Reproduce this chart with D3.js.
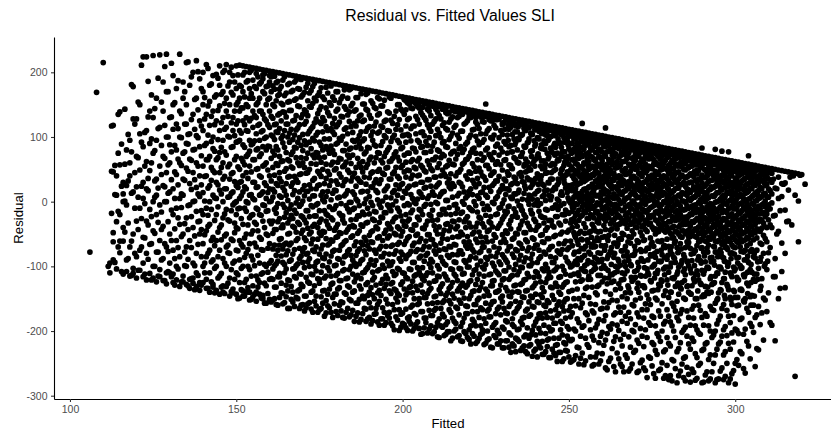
<!DOCTYPE html>
<html><head><meta charset="utf-8">
<script src="https://cdn.jsdelivr.net/npm/d3@7"></script>
<style>body{margin:0;background:#fff}svg{display:block;font-family:"Liberation Sans",Arial,Helvetica,sans-serif}</style>
</head><body><svg id="c" width="831" height="430"></svg>
<script>
const chartTitle = "Residual vs. Fitted Values SLI";
const xTitle = "Fitted";
const yTitle = "Residual";
const xTicks = [100, 150, 200, 250, 300];
const xTickLabels = ["100", "150", "200", "250", "300"];
const yTicks = [-300, -200, -100, 0, 100, 200];
const yTickLabels = ["-300", "-200", "-100", "0", "100", "200"];

// points read column by column: fitted value of each column
const fittedValues = [105,106,107,108,109,110,111,112,113,114,115,116,117,118,119,120,121,122,123,124,125,126,127,128,129,130,131,132,133,134,135,136,137,138,139,140,141,142,143,144,145,146,147,148,149,150,151,152,153,154,155,156,157,158,159,160,161,162,163,164,165,166,167,168,169,170,171,172,173,174,175,176,177,178,179,180,181,182,183,184,185,186,187,188,189,190,191,192,193,194,195,196,197,198,199,200,201,202,203,204,205,206,207,208,209,210,211,212,213,214,215,216,217,218,219,220,221,222,223,224,225,226,227,228,229,230,231,232,233,234,235,236,237,238,239,240,241,242,243,244,245,246,247,248,249,250,251,252,253,254,255,256,257,258,259,260,261,262,263,264,265,266,267,268,269,270,271,272,273,274,275,276,277,278,279,280,281,282,283,284,285,286,287,288,289,290,291,292,293,294,295,296,297,298,299,300,301,302,303,304,305,306,307,308,309,310,311,312,313,314,315,316,317,318,319,320,321];

// residuals in each of those columns
const residualValues = [
[],[-78],[],[169],[],[215],[],
[-110,-95],
[118,46,-48,-62,-90],
[-31,40,-104,10],
[139,57,-79,-61,-20],
[12,0,-61,-112,30,-40],
[80,-90,25,-108,-5],
[40,95,-115,-70,60],
[178,128,-103,-50,15,-111],
[23,128,-118,70,-30,-85],
[49,105,-106,-10,-75,150],
[224,85,-116,30,-55,-95,5],
[224,62,-121,-30,110,-80,20],
[140,-111,48,-12,-66,90],
[226,75,-118,-100,0,-45,130],
[35,-124,160,-78,10,95,-20],
[227,55,-116,-60,115,-5,-105],
[185,70,-122,-88,25,-38,140],
[228,100,-127,0,-70,45,-110,170],
[60,-110,130,-50,15,-95,88],
[195,-125,20,-20,150,-75,112,-112],
[80,-121,42,-10,-60,175,-100,120],
[228,140,-131,60,-35,5,-85,100],
[160,-124,10,-115,75,35,-50,185],
[215,120,-128,-25,52,-70,90,-100,150],
[180,-134,28,-120,66,-5,105,-60],
[135,-126,80,-40,0,200,-95,45,-118],
[218,-131,102,-15,60,-80,160,22,-110],
[190,-137,40,125,-50,-125,8,85,-30],
[150,-125,55,-100,170,14,-65,110,-20,200],
[212,-134,90,-10,135,-120,40,-45,65,-85],
[180,-140,25,118,-75,0,155,-110,70,-35],
[100,-132,48,195,-55,-128,10,140,-90,82],
[197,-137,125,30,-20,-100,65,165,-60,5],
[210,-143,76,-40,148,-115,18,-75,110,45,180],
[170,-140,95,0,-88,130,-25,60,-130,35,200],
[212,-131,20,115,-50,160,-100,72,-12,140,-70],
[185,-146,58,-30,100,-118,8,150,-80,200,35],
[195,-141,130,-5,-60,85,-135,45,165,-95,15,110],
[210,-143,70,-20,120,-110,25,175,-75,92,-40,150,0],
[211,-149,180,95,-10,140,-125,50,-60,110,5,-90,160,30],
[210,196,-146,125,62,-35,-100,15,170,-70,88,-138,40,145],
[209,-140,150,70,-15,110,-80,185,20,-120,45,-50,130,0],
[208,200,-152,95,-25,160,-105,55,125,-65,10,-140,175,78],
[207,-147,140,30,-45,188,-90,65,115,-130,5,160,-20,90],
[206,198,-154,105,-10,150,-115,50,-70,175,22,-140,80,130,-35],
[205,-143,120,40,-55,182,-95,10,160,-125,70,95,-20,140],
[204,196,-150,85,-30,135,-145,55,-75,170,15,-110,110,190,-5],
[203,-157,150,60,-15,100,-100,25,-130,178,-50,125,5,80],
[202,195,-151,115,40,-65,160,-120,0,85,-30,140,-95,185,20],
[201,-152,-120,-104,-73,-49,-30,7,19,53,78,101,129,150,179],
[200,-159,-132,-96,-83,-43,-18,-9,28,59,85,108,120,156,184],
[199,-148,-116,-111,-67,-58,-26,9,36,45,70,113,136,166,174],
[198,-158,-142,-94,-73,-40,-36,-4,22,63,91,102,139,150,188],
[197,-147,-129,-104,-82,-64,-17,10,28,51,76,120,131,168],
[196,-165,-122,-92,-67,-49,-27,-11,39,63,92,106,141,155,183],
[195,-155,-140,-104,-81,-38,-26,11,29,52,77,96,125,172],
[194,-148,-118,-99,-60,-47,-18,-2,34,68,83,111,133,159,188],
[193,-165,-136,-111,-88,-72,-35,-7,15,42,56,99,119,147,174],
[192,-159,-131,-94,-77,-44,-24,1,19,60,79,104,135,165],
[191,-164,-146,-117,-81,-60,-33,-14,16,44,67,88,124,139,177],
[190,-156,-126,-100,-88,-50,-23,4,26,50,92,109,147,168],
[189,-171,-138,-113,-75,-58,-38,-8,9,33,72,98,116,152,178],
[188,-161,-146,-107,-94,-70,-22,-5,20,58,76,103,128,156],
[187,-167,-126,-120,-81,-48,-32,-14,26,43,68,92,123,142,169],
[186,-157,-138,-99,-87,-67,-46,3,15,50,80,108,130,162],
[185,-172,-153,-115,-81,-57,-30,-19,8,36,58,85,116,145,177],
[184,-164,-135,-107,-93,-65,-41,-8,25,42,75,97,133,153],
[183,-179,-148,-126,-77,-61,-28,-12,13,61,79,108,121,162],
[182,-170,-143,-114,-98,-55,-40,-6,17,32,51,89,116,140,170],
[181,-160,-133,-122,-89,-75,-48,-18,7,43,67,98,123,153],
[180,-179,-156,-107,-95,-66,-28,-22,25,54,79,101,131,163],
[179,-171,-143,-119,-83,-60,-47,-6,12,34,61,89,114,143],
[178,-178,-151,-132,-105,-74,-39,-16,-1,45,68,81,124,139,173],
[177,-168,-140,-112,-90,-53,-37,-12,15,38,72,95,107,152],
[176,-177,-157,-118,-100,-83,-62,-27,4,24,53,84,117,142,161],
[175,-186,-151,-130,-96,-73,-45,-22,-6,32,59,89,102,132],
[174,-173,-146,-110,-89,-67,-38,-16,16,46,62,94,124,151],
[173,-185,-166,-128,-105,-82,-60,-33,4,27,53,77,109,143,166],
[172,-179,-156,-140,-97,-73,-52,-19,8,37,65,83,116,134],
[171,-184,-144,-121,-109,-63,-45,-27,-6,22,46,95,108,152],
[170,-173,-165,-129,-91,-80,-39,-16,17,34,68,86,123,144],
[169,-191,-154,-137,-105,-73,-54,-32,-4,28,50,75,108,136,159],
[168,-181,-164,-120,-98,-85,-60,-25,1,44,60,93,115,148],
[167,-187,-151,-128,-114,-69,-44,-17,7,20,52,76,99,126],
[166,-180,-171,-138,-99,-81,-53,-38,-9,35,62,84,109,137,162],
[165,-192,-159,-125,-108,-93,-67,-31,-5,14,43,67,99,121],
[164,-178,-149,-137,-112,-76,-51,-24,1,26,53,77,112,140],
[163,-199,-167,-145,-105,-88,-63,-42,-15,20,36,63,91,127,150],
[162,-188,-172,-124,-110,-82,-46,-30,6,28,56,84,102,140],
[161,156,-195,-166,-144,-117,-88,-61,-38,-20,13,38,61,92,117,142],
[160,151,-185,-178,-133,-104,-81,-54,-27,-5,24,48,75,102,129],
[159,155,-200,-160,-141,-123,-94,-68,-44,-13,5,41,65,83,117,144],
[158,151,-190,-175,-131,-113,-77,-52,-36,-3,27,51,77,105,132],
[157,152,-196,-157,-150,-109,-87,-62,-28,-12,15,41,67,92,120,145],
[156,146,-204,-170,-140,-119,-102,-74,-41,-20,7,30,53,85,108,134],
[155,151,-187,-180,-148,-114,-83,-61,-36,-4,22,46,76,93,126],
[154,147,-197,-168,-137,-126,-96,-70,-51,-20,9,34,57,99,114,140],
[153,148,-204,-176,-157,-110,-93,-59,-29,-13,15,48,65,86,120],
[152,143,-194,-165,-146,-122,-81,-68,-44,-1,23,38,69,102,128],
[151,147,-210,-181,-136,-116,-104,-75,-39,-20,8,29,59,78,106,133],
[150,143,-194,-174,-156,-127,-92,-57,-50,-12,15,49,73,91,118],
[149,144,-205,-190,-145,-116,-98,-74,-35,-19,2,39,54,85,113,138],
[148,138,-201,-167,-153,-134,-86,-69,-45,-9,23,35,64,96,123],
[147,143,-211,-180,-143,-125,-105,-82,-55,-30,7,28,58,77,106,131],
[146,139,-197,-188,-163,-115,-94,-67,-42,-18,-4,40,66,90,118],
[145,140,-207,-175,-152,-134,-103,-76,-54,-28,13,30,46,82,98,132],
[144,135,-216,-187,-141,-126,-112,-81,-51,-16,0,23,58,76,109],
[143,139,-204,-173,-161,-132,-94,-68,-40,-27,6,40,65,89,122],
[142,135,-213,-198,-150,-124,-101,-90,-62,-33,-9,16,46,70,99,130],
[141,136,-204,-182,-170,-139,-113,-74,-50,-14,11,33,59,81,111],
[140,130,-219,-192,-159,-128,-105,-87,-58,-39,-6,23,47,75,101,123],
[139,135,-211,-179,-149,-137,-112,-79,-47,-24,5,28,52,88,113],
[138,131,-203,-198,-167,-125,-101,-71,-63,-34,-3,15,40,64,92,124],
[137,151,132,-219,-188,-157,-135,-97,-86,-55,-21,10,33,56,80,105],
[136,127,-212,-178,-166,-145,-113,-76,-44,-31,-12,22,51,73,113],
[135,131,-226,-194,-155,-130,-123,-95,-61,-39,-1,25,44,65,97,125],
[134,127,-210,-187,-173,-140,-107,-85,-55,-20,5,32,58,86,114],
[133,128,-220,-204,-163,-137,-113,-93,-72,-37,-10,15,39,72,99],
[132,122,-226,-194,-155,-146,-121,-82,-51,-27,-3,25,49,77,104,119],
[131,127,-215,-184,-172,-133,-107,-90,-63,-45,-19,11,32,65,89],
[130,123,-225,-203,-162,-146,-120,-101,-70,-35,-7,18,42,57,85,112],
[129,124,-220,-190,-181,-140,-114,-81,-58,-23,5,28,51,77,104],
[128,119,-232,-211,-170,-154,-129,-97,-74,-49,-17,12,36,66,92,117],
[127,123,-216,-197,-162,-140,-108,-90,-64,-42,-6,18,43,60,96],
[126,119,-226,-190,-180,-147,-126,-102,-72,-30,-14,4,31,76,104],
[125,120,-232,-206,-169,-138,-120,-87,-59,-48,-24,20,46,66,85,110],
[124,114,-223,-211,-177,-155,-116,-99,-71,-38,-4,10,34,53,97],
[123,119,-239,-199,-162,-148,-133,-95,-81,-56,-19,4,26,59,79,104],
[122,115,-228,-206,-186,-143,-126,-108,-67,-44,-31,-3,36,66,89],
[121,116,-221,-196,-174,-156,-116,-88,-75,-37,-15,18,40,68,97,109],
[120,111,-236,-216,-180,-148,-133,-104,-62,-51,-24,8,27,51,82],
[119,115,-232,-204,-172,-162,-125,-97,-81,-44,-12,2,44,58,90,103],
[118,111,-241,-212,-194,-156,-115,-109,-74,-57,-29,10,29,69,97],
[117,112,-228,-198,-180,-145,-133,-94,-69,-37,-10,17,35,59,76],
[116,106,-238,-222,-188,-167,-126,-105,-87,-52,-23,-5,20,50,84,102],
[115,111,-233,-211,-173,-155,-140,-117,-79,-65,-33,1,30,64,90],
[114,107,-247,-206,-188,-162,-132,-100,-74,-47,-20,10,37,51,77,105],
[113,108,-230,-220,-180,-151,-125,-112,-86,-61,-30,-13,21,41,68,95],
[112,102,-240,-213,-197,-168,-139,-95,-71,-44,-18,1,25,58,82],
[111,107,102,90,76,65,51,40,26,17,3,-8,-15,-246,-213,-172,-137,-99,-68,-40],
[110,105,97,84,78,59,45,33,20,10,-3,-21,-238,-200,-161,-124,-92,-55,-32],
[109,106,101,91,80,67,52,41,28,12,5,-13,-251,-226,-187,-150,-114,-77,-49,-29],
[108,121,102,93,84,70,55,42,33,16,3,-8,-21,-234,-194,-157,-121,-86,-59],
[107,103,96,87,73,59,45,33,20,8,-4,-17,-246,-211,-172,-134,-108,-69,-40],
[106,101,97,89,76,62,50,37,23,10,-1,-12,-26,-225,-184,-148,-115,-78,-48],
[105,102,93,82,69,55,42,27,14,2,-10,-22,-254,-208,-169,-132,-94,-66,-35],
[104,98,90,85,76,63,50,32,22,9,-6,-17,-240,-195,-159,-141,-103,-69,-45],
[103,99,95,81,70,56,44,36,23,10,-3,-20,-27,-251,-218,-182,-129,-93,-60,-33],
[102,97,91,77,63,50,38,26,14,1,-12,-24,-235,-202,-165,-124,-89,-55],
[101,114,98,91,85,70,56,43,31,17,3,-8,-19,-30,-257,-214,-176,-139,-103,-68,-43],
[100,94,87,78,65,51,39,27,14,0,-12,-25,-247,-193,-156,-118,-82,-52],
[99,95,90,81,72,57,44,34,20,7,-5,-18,-29,-227,-189,-152,-113,-79,-42],
[98,93,86,74,60,52,38,23,9,-4,-15,-25,-263,-209,-172,-136,-100,-64,-36],
[97,94,89,82,68,54,40,29,16,3,-11,-22,-35,-243,-199,-163,-127,-92,-58],
[96,90,85,76,62,48,34,25,11,-1,-14,-30,-255,-223,-185,-147,-110,-76,-49],
[95,91,81,72,63,51,42,29,17,4,-8,-21,-34,-237,-177,-141,-100,-69],
[94,89,85,75,58,44,31,20,7,-5,-17,-28,-262,-209,-171,-134,-91,-54],
[93,90,81,67,53,39,26,14,1,-11,-22,-34,-251,-199,-159,-123,-83,-45],
[92,86,82,75,64,50,36,23,10,-4,-15,-28,-39,-230,-190,-152,-117,-76],
[91,87,78,70,56,44,31,19,7,-7,-21,-33,-262,-219,-178,-140,-101,-62],
[90,85,82,66,53,39,26,14,2,-11,-23,-39,-245,-208,-167,-130,-91,-53],
[89,86,78,71,58,45,31,19,8,-4,-16,-29,-43,-261,-198,-158,-115,-76],
[88,82,74,66,55,39,26,15,2,-12,-22,-35,-240,-187,-151,-113,-72],
[87,83,78,67,51,41,28,19,4,-8,-21,-39,-254,-218,-177,-138,-101,-63],
[86,81,74,61,47,34,21,9,-4,-16,-28,-42,-273,-230,-192,-149,-111,-86,-50],
[85,82,78,69,56,42,30,19,6,-6,-18,-34,-46,-261,-209,-169,-128,-92],
[84,78,71,61,50,36,23,10,-4,-15,-27,-38,-249,-200,-158,-123,-82,-60],
[83,79,73,64,51,38,26,12,-1,-14,-23,-34,-47,-269,-229,-185,-138,-101,-71],
[82,77,70,56,44,32,19,7,-5,-18,-31,-43,-275,-219,-177,-148,-109,-69],
[81,78,73,64,51,39,27,14,1,-11,-23,-40,-51,-277,-244,-192,-157,-118,-81,-56],
[80,74,66,58,45,31,20,7,-5,-16,-29,-46,-258,-210,-169,-131,-94,-61],
[79,75,68,58,46,35,21,10,-4,-15,-28,-39,-50,-269,-227,-184,-143,-101,-77],
[78,73,69,54,41,27,14,1,-12,-24,-36,-45,-251,-202,-167,-125,-91,-55],
[77,74,65,59,49,37,24,12,-1,-12,-24,-35,-50,-277,-240,-194,-151,-113,-71],
[76,70,66,53,40,29,15,4,-10,-22,-34,-44,-55,-267,-220,-179,-140,-99,-63],
[75,71,62,55,43,30,18,5,-7,-20,-31,-49,-259,-211,-166,-130,-91],
[74,69,66,57,45,33,19,8,-5,-17,-29,-42,-54,-276,-235,-192,-150,-112,-76],
[73,70,62,48,35,23,11,-1,-14,-26,-39,-49,-253,-203,-160,-121,-85,-62],
[72,83,66,60,53,41,29,16,4,-9,-21,-33,-46,-58,-280,-230,-179,-147,-106,-71],
[71,67,62,49,37,25,12,0,-13,-25,-37,-48,-61,-268,-220,-173,-131,-93],
[70,65,57,52,43,31,18,6,-6,-18,-31,-43,-55,-277,-244,-192,-142,-103,-67],
[69,66,59,45,33,21,9,-4,-16,-28,-40,-52,-263,-210,-167,-128,-86],
[68,81,62,57,47,35,24,11,-1,-14,-26,-38,-49,-61,-280,-237,-200,-157,-115,-78],
[67,63,58,51,39,26,14,1,-11,-23,-35,-48,-60,-274,-220,-183,-141,-101],
[66,78,61,53,41,31,19,7,-6,-17,-29,-42,-54,-66,-257,-208,-165,-125,-85],
[65,62,54,45,33,22,9,-3,-15,-27,-39,-51,-63,-270,-232,-193,-150,-109,-71],
[64,77,58,55,46,35,24,13,1,-11,-23,-35,-47,-59,-280,-219,-177,-136,-95],
[63,59,51,40,29,17,5,-7,-19,-31,-43,-55,-67,-266,-203,-159,-116,-79],
[62,57,54,47,36,25,13,1,-11,-23,-35,-47,-59,-71,-282,-250,-197,-148,-104],
[61,56,49,40,30,19,8,-4,-16,-29,-41,-52,-64,-253,-204,-160,-121,-86],
[60,56,51,43,32,20,10,-2,-14,-26,-37,-50,-62,-235,-180,-137,-102],
[59,53,45,36,25,13,2,-10,-22,-34,-47,-59,-265,-197,-150,-112,-75],
[58,71,54,48,39,28,16,4,-8,-20,-32,-45,-57,-223,-171,-130,-94],
[57,52,44,32,20,8,-3,-14,-27,-39,-51,-193,-145,-109,-74],
[56,52,47,38,25,13,1,-11,-23,-35,-48,-255,-179,-123,-87],
[55,49,40,29,17,5,-7,-19,-31,-43,-229,-162,-103],
[54,49,42,33,20,8,-5,-18,-29,-41,-172,-119,-66],
[53,49,39,25,13,1,-8,-23,-152,-96,-57],
[52,46,35,20,7,-5,-28,-141,-79],
[51,44,30,-2,-191,-40,12],
[50,21,-21,-215,-116,-88],
[49,38,-46,5,-150],
[48,8,-64,-108,28],
[47,29,-13,-133,-80],
[46,18,-30],
[45,-36],
[44,-270,10],
[43,1,-62],
[42],
[27]
];

// second set of columns, read between the first ones
const fittedValues2 = [105.5,106.5,107.5,108.5,109.5,110.5,111.5,112.5,113.5,114.5,115.5,116.5,117.5,118.5,119.5,120.5,121.5,122.5,123.5,124.5,125.5,126.5,127.5,128.5,129.5,130.5,131.5,132.5,133.5,134.5,135.5,136.5,137.5,138.5,139.5,140.5,141.5,142.5,143.5,144.5,145.5,146.5,147.5,148.5,149.5,150.5,151.5,152.5,153.5,154.5,155.5,156.5,157.5,158.5,159.5,160.5,161.5,162.5,163.5,164.5,165.5,166.5,167.5,168.5,169.5,170.5,171.5,172.5,173.5,174.5,175.5,176.5,177.5,178.5,179.5,180.5,181.5,182.5,183.5,184.5,185.5,186.5,187.5,188.5,189.5,190.5,191.5,192.5,193.5,194.5,195.5,196.5,197.5,198.5,199.5,200.5,201.5,202.5,203.5,204.5,205.5,206.5,207.5,208.5,209.5,210.5,211.5,212.5,213.5,214.5,215.5,216.5,217.5,218.5,219.5,220.5,221.5,222.5,223.5,224.5,225.5,226.5,227.5,228.5,229.5,230.5,231.5,232.5,233.5,234.5,235.5,236.5,237.5,238.5,239.5,240.5,241.5,242.5,243.5,244.5,245.5,246.5,247.5,248.5,249.5,250.5,251.5,252.5,253.5,254.5,255.5,256.5,257.5,258.5,259.5,260.5,261.5,262.5,263.5,264.5,265.5,266.5,267.5,268.5,269.5,270.5,271.5,272.5,273.5,274.5,275.5,276.5,277.5,278.5,279.5,280.5,281.5,282.5,283.5,284.5,285.5,286.5,287.5,288.5,289.5,290.5,291.5,292.5,293.5,294.5,295.5,296.5,297.5,298.5,299.5,300.5,301.5,302.5,303.5,304.5,305.5,306.5,307.5,308.5,309.5,310.5,311.5,312.5,313.5,314.5,315.5,316.5,317.5,318.5,319.5,320.5];

const residualValues2 = [
[],[],[],[],[],[],[-100],
[-18,47,117],
[-94,11,56],
[-70,-15,75,135],
[-108,24,89],
[-47,1,58,143],
[-88,-33,32,104],
[-114,-61,13,77,181],
[-80,-10,45,120],
[-106,-43,7,68,154],
[-70,-26,24,92,211],
[-112,-56,-3,55,107],
[-89,-36,17,36,131,186],
[-121,-65,-23,60,97,165],
[-100,-49,7,32,79,144],
[-115,-78,-32,21,113,191],
[-90,-43,-16,42,87,154],
[-122,-65,0,23,67,118,209],
[-108,-77,-31,13,57,100,170],
[-116,-60,-13,34,77,131,214],
[-129,-88,-42,5,46,87,153],
[-104,-71,-25,26,66,113,187],
[-124,-54,-9,12,56,99,136],
[-99,-78,-34,33,77,120,170],
[-130,-89,-43,-6,47,89,104,216],
[-119,-71,-23,19,64,127,193],
[-136,-99,-53,1,34,81,112,158],
[-114,-66,-31,12,55,99,142,201],
[-129,-85,-43,-14,26,71,117,175],
[-110,-95,-51,1,39,87,128,161],
[-134,-80,-38,-21,21,65,103,148,206],
[-124,-93,-60,-12,33,53,93,132,182],
[-141,-103,-68,-29,6,45,78,119,162],
[-118,-85,-47,-8,26,68,96,141,191],
[-132,-111,-59,-36,12,53,84,122,166],
[-142,-95,-53,-19,20,39,77,112,152,203],
[-126,-79,-67,-28,7,54,101,132,179],
[-139,-105,-58,-14,13,43,84,122,169,208],
[-120,-92,-48,-33,-2,31,65,102,140,185],
[-150,-113,-76,-42,-11,22,54,93,125,154,196],
[-136,-103,-66,-26,9,31,67,106,145,178],
[-146,-125,-86,-56,-10,23,57,84,119,162,200],
[-133,-100,-74,-36,-2,36,73,109,147,187],
[-151,-115,-84,-50,-21,11,46,88,129,167,203],
[-143,-99,-64,-32,3,30,65,94,133,178],
[-132,-121,-83,-45,-12,23,51,82,118,153,193],
[-149,-112,-74,-58,-21,12,38,74,108,140,185],
[-157,-126,-97,-40,-6,29,57,98,128,167,198],
[-142,-109,-72,-52,-14,14,49,86,119,158,179],
[-155,-119,-91,-34,1,32,67,103,132,170,193],
[-150,-132,-99,-67,-43,-12,15,41,72,96,119,147,174,194],
[-160,-116,-92,-75,-31,-3,25,56,80,107,134,164,186],
[-141,-126,-84,-57,-40,7,31,62,98,125,152,178],
[-156,-110,-97,-66,-24,-9,17,47,84,110,138,164,193],
[-165,-138,-121,-76,-50,-33,2,38,65,100,120,154,181],
[-151,-131,-90,-64,-21,-5,24,54,73,112,141,170],
[-162,-116,-103,-74,-40,-13,17,39,84,103,126,157,185],
[-150,-138,-96,-57,-32,5,30,60,92,114,148,175],
[-160,-128,-112,-84,-49,-22,-4,43,68,87,130,162,189],
[-169,-146,-102,-71,-56,-28,9,25,53,94,120,142,169],
[-158,-124,-93,-80,-41,-14,16,45,75,105,133,156,183],
[-166,-140,-112,-65,-47,-6,20,59,82,113,146,172],
[-154,-130,-100,-77,-35,-22,9,36,68,94,122,160,183],
[-171,-119,-92,-58,-40,-3,25,47,75,107,136,164],
[-165,-147,-109,-73,-52,-27,10,39,61,87,121,147,176],
[-177,-137,-118,-88,-47,-14,0,28,69,97,125,158],
[-161,-143,-102,-67,-36,-21,16,47,81,110,138,168],
[-171,-128,-115,-84,-59,-25,3,32,57,86,113,149,179],
[-158,-143,-99,-75,-44,-11,18,49,73,104,129,157],
[-176,-135,-111,-88,-54,-35,6,27,61,91,119,143,170],
[-169,-155,-122,-68,-49,-21,-3,38,66,95,132,159],
[-180,-141,-105,-85,-62,-33,9,31,56,79,112,147,173],
[-165,-130,-118,-77,-43,-11,17,49,72,105,134,160],
[-175,-153,-100,-83,-55,-28,-1,32,59,83,116,148,175],
[-185,-138,-124,-95,-68,-39,-10,11,44,93,121,140],
[-172,-157,-114,-77,-49,-22,1,36,67,96,125,161],
[-182,-135,-119,-91,-63,-36,15,30,53,82,108,134,167],
[-165,-150,-109,-76,-55,-20,-3,38,74,97,126,151],
[-181,-145,-125,-102,-68,-32,-10,16,58,84,114,141,168],
[-189,-164,-133,-90,-62,-47,-1,23,44,69,102,129,156],
[-174,-150,-117,-98,-75,-29,-15,29,60,88,117,146],
[-186,-159,-141,-107,-56,-42,3,14,47,76,106,134,161],
[-181,-145,-126,-85,-69,-24,-9,34,64,87,117,148],
[-191,-171,-134,-103,-80,-49,-17,17,42,70,102,124,157],
[-176,-158,-119,-92,-56,-34,-5,24,53,80,110,139],
[-188,-142,-127,-98,-69,-42,-14,6,35,63,93,126,160],
[-198,-167,-135,-114,-81,-49,-26,17,46,73,103,132],
[-183,-155,-142,-103,-66,-39,-10,10,39,69,95,119,150],
[-194,-174,-128,-92,-78,-53,-22,26,53,82,111,143],
[-190,-152,-135,-111,-66,-37,-6,16,46,72,103,135,158],
[-199,-180,-141,-119,-83,-56,-30,-3,21,49,75,104,127,153],
[-189,-163,-131,-105,-77,-43,-17,11,36,62,94,113,145],
[-196,-173,-150,-115,-94,-64,-36,-1,26,53,82,117,154],
[-186,-159,-137,-102,-74,-50,-24,4,40,63,95,127,147],
[-205,-170,-129,-114,-84,-57,-14,12,30,56,84,107,138],
[-195,-180,-148,-122,-92,-69,-42,-7,21,48,76,102,130,153],
[-203,-158,-142,-110,-80,-51,-30,5,34,63,87,119,143],
[-192,-176,-134,-102,-89,-58,-22,-4,24,51,78,109,133],
[-201,-168,-147,-123,-76,-66,-37,10,38,65,92,124,147],
[-209,-187,-156,-115,-99,-50,-28,-3,26,53,80,112,138],
[-192,-165,-142,-131,-86,-64,-20,12,40,68,99,128],
[-207,-178,-153,-112,-96,-73,-44,-12,16,43,71,93,122,146],
[-201,-186,-141,-121,-83,-58,-34,2,29,56,84,111,136],
[-215,-171,-158,-131,-104,-70,-39,-20,20,43,74,101,128],
[-200,-185,-149,-112,-93,-66,-31,-5,24,57,78,115,140],
[-209,-165,-138,-122,-82,-54,-38,-11,9,45,73,103,130],
[-215,-193,-157,-130,-104,-76,-47,-18,28,50,85,109,136],
[-201,-180,-149,-111,-91,-62,-31,-4,15,60,81,120,141],
[-210,-173,-162,-129,-101,-72,-54,-23,9,35,66,92,125],
[-220,-192,-145,-122,-85,-68,-39,-12,20,44,76,103,130],
[-208,-186,-159,-138,-106,-78,-47,0,28,54,83,112,135],
[-216,-170,-152,-120,-98,-63,-33,-16,9,36,65,94,119],
[-205,-192,-164,-132,-92,-77,-54,-26,14,46,74,105,131],
[-221,-181,-146,-115,-104,-70,-39,-12,22,38,68,96,123],
[-214,-200,-169,-139,-89,-62,-46,-7,7,56,83,110,133],
[-225,-178,-159,-130,-112,-84,-33,-23,16,41,69,99,125],
[-207,-190,-154,-122,-100,-70,-51,-3,28,46,76,103,118],
[-220,-199,-166,-139,-110,-79,-41,-19,8,32,62,89,127],
[-215,-175,-149,-129,-97,-63,-33,-9,19,57,83,110],
[-226,-197,-165,-119,-107,-86,-58,-23,3,35,64,93,122],
[-215,-186,-173,-138,-94,-76,-49,-16,20,46,75,103,128],
[-233,-206,-158,-147,-116,-69,-42,-29,7,26,56,87,115],
[-223,-193,-172,-130,-105,-86,-56,-11,12,38,68,97,121],
[-213,-198,-165,-139,-113,-76,-50,-24,1,28,61,80,108],
[-230,-185,-156,-128,-101,-83,-66,-36,-7,45,70,102,122],
[-223,-209,-179,-148,-121,-93,-48,-20,13,30,55,86,113],
[-235,-195,-166,-137,-111,-76,-62,-33,3,37,61,91,116],
[-221,-206,-175,-146,-99,-88,-43,-13,9,22,49,78,106],
[-231,-192,-163,-130,-117,-72,-58,-27,-5,30,63,94,119],
[-240,-216,-181,-155,-110,-94,-67,-39,3,16,43,71,99],
[-226,-203,-173,-144,-124,-85,-52,-22,-3,34,55,83,110],
[-236,-191,-160,-139,-107,-78,-63,-33,10,25,63,94,114],
[-224,-214,-179,-153,-119,-103,-57,-40,-13,18,45,75,103],
[-241,-200,-169,-132,-117,-85,-70,-29,3,35,56,83,110],
[-234,-211,-188,-151,-107,-94,-54,-39,-9,20,48,87,104],
[-247,-221,-176,-160,-131,-101,-76,-23,4,26,63,75,112],
[-233,-198,-185,-143,-116,-81,-50,-36,-6,11,43,91,105],
[-243,-218,-169,-155,-128,-106,-65,-20,-3,34,56,77,99],
[-231,-208,-193,-150,-124,-92,-74,-47,-16,14,46,65,94,108],
[-248,-215,-178,-162,-114,-101,-61,-33,-2,20,49,79,105],
[-244,-197,-150,-112,-81,-48,-26,-9,7,18,36,49,66,81,97,107],
[-225,-181,-135,-97,-60,-38,-17,-4,13,26,43,58,72,90,103],
[-242,-208,-164,-123,-90,-46,-23,0,8,29,38,53,75,84,98],
[-252,-192,-145,-107,-73,-34,-15,-4,19,31,48,60,81,92,105],
[-221,-175,-132,-96,-59,-26,-10,2,13,35,42,66,74,95],
[-240,-198,-158,-120,-81,-46,-20,-5,6,23,37,52,70,83,100],
[-252,-214,-172,-105,-70,-40,-25,-10,13,19,41,54,65,87,96],
[-234,-189,-144,-131,-89,-56,-31,-15,-2,9,30,45,58,76,91],
[-246,-208,-166,-114,-80,-46,-22,-5,6,24,33,54,68,81,98],
[-222,-184,-155,-99,-69,-37,-26,-11,12,20,39,49,70,86,95],
[-260,-204,-164,-127,-88,-56,-21,-6,2,16,33,44,58,77,90],
[-242,-197,-143,-112,-77,-44,-34,-16,-3,24,27,49,62,81,96],
[-255,-216,-175,-123,-86,-64,-28,-12,5,12,33,44,69,76,90],
[-234,-191,-153,-108,-69,-42,-20,-7,7,20,37,53,62,84],
[-251,-213,-171,-134,-98,-57,-34,-25,-3,13,25,39,56,71,91],
[-263,-205,-163,-120,-84,-51,-29,-13,0,16,32,46,62,79,88],
[-242,-188,-150,-107,-78,-41,-25,-18,6,20,26,43,67,74,91],
[-258,-225,-181,-141,-97,-64,-35,-10,-4,11,32,47,55,82],
[-233,-201,-161,-120,-83,-50,-31,-22,1,16,22,39,60,69,87],
[-264,-214,-172,-134,-106,-60,-40,-15,-9,6,27,35,50,74,83],
[-249,-196,-149,-114,-74,-47,-28,-19,-4,17,23,42,60,76,88],
[-257,-224,-180,-130,-92,-60,-36,-13,0,9,30,46,53,64,83],
[-272,-210,-167,-144,-104,-72,-46,-28,-16,1,16,34,48,69,78],
[-242,-191,-159,-122,-82,-56,-33,-24,-9,9,21,35,54,72,83],
[-266,-221,-179,-137,-99,-69,-43,-21,-6,2,24,39,58,65,79],
[-236,-204,-152,-111,-77,-47,-30,-15,-1,14,28,43,59,73,83],
[-259,-216,-177,-130,-93,-62,-40,-25,-11,9,19,34,49,66,79],
[-273,-232,-189,-145,-104,-69,-44,-34,-16,0,14,28,40,59,74],
[-253,-210,-167,-121,-89,-58,-39,-21,-9,5,22,36,51,68,79],
[-269,-223,-186,-140,-101,-76,-49,-31,-15,0,13,28,44,59,74],
[-246,-200,-162,-119,-86,-56,-38,-25,-7,6,17,36,51,64,78],
[-280,-232,-179,-154,-112,-71,-47,-22,-14,0,21,30,45,68],
[-262,-218,-173,-133,-98,-65,-54,-36,-20,-7,8,26,38,55,72],
[-272,-242,-198,-149,-108,-82,-45,-31,-13,1,13,30,50,59,73],
[-256,-208,-169,-131,-93,-62,-49,-34,-26,-6,10,20,38,63,68],
[-279,-228,-191,-142,-104,-72,-54,-38,-19,2,14,30,43,55,72],
[-264,-216,-180,-161,-119,-80,-45,-32,-14,-6,7,23,39,59,68],
[-273,-241,-198,-150,-107,-68,-55,-43,-26,-11,13,31,43,49,64],
[-250,-205,-168,-126,-91,-61,-49,-32,-20,-3,3,18,34,55,68],
[-279,-228,-191,-144,-112,-78,-53,-40,-26,-15,7,23,38,59,66],
[-263,-218,-177,-140,-102,-72,-62,-37,-31,-8,5,13,28,45,63],
[-274,-237,-200,-162,-119,-87,-58,-46,-24,-12,-3,19,33,50,66],
[-250,-206,-168,-126,-92,-69,-54,-35,-21,-9,8,22,40,58],
[-275,-228,-189,-152,-110,-78,-62,-45,-29,-16,0,14,28,45,61],
[-262,-217,-177,-136,-101,-74,-52,-39,-34,-8,4,22,35,52,64],
[-275,-237,-198,-159,-119,-87,-61,-49,-26,-14,-1,10,29,48,57],
[-250,-207,-168,-128,-94,-71,-56,-43,-31,-17,-4,15,38,52,60],
[-274,-228,-187,-148,-110,-80,-62,-47,-35,-22,2,16,29,43,58],
[-261,-217,-176,-137,-101,-70,-54,-40,-26,-11,-3,11,24,47,55],
[-244,-199,-161,-117,-87,-62,-51,-36,-21,-9,5,18,37,51,59],
[-232,-182,-136,-99,-70,-57,-44,-31,-18,-3,11,27,42,56],
[-258,-205,-153,-113,-78,-60,-48,-36,-25,-8,5,19,34,48],
[-216,-165,-126,-90,-68,-55,-41,-30,-14,-3,14,27,44,55],
[-243,-188,-147,-105,-77,-65,-49,-36,-23,-12,5,21,36,50],
[-202,-160,-120,-85,-59,-46,-30,-19,-4,10,27,44],
[-227,-175,-112,-75,-56,-42,-28,-13,2,15,32,50],
[-190,-137,-92,-64,-46,-27,-11,6,22,38,50],
[-214,-149,-80,-52,-33,-17,-3,12,31,45],
[-170,-105,-62,-40,-19,8,27,42],
[-187,-71,-36,-11,17,45],
[-116,-22,35],
[-50,20],
[-134,-14],
[27],
[-31],
[38],
[40],
[],
[41],
[]
];

// third set of columns in the right-hand, densest part of the cloud
const fittedValues3 = [230.75,231.75,232.75,233.75,234.75,235.75,236.75,237.75,238.75,239.75,240.75,241.75,242.75,243.75,244.75,245.75,246.75,247.75,248.75,249.75,250.75,251.75,252.75,253.75,254.75,255.75,256.75,257.75,258.75,259.75,260.75,261.75,262.75,263.75,264.75,265.75,266.75,267.75,268.75,269.75,270.75,271.75,272.75,273.75,274.75,275.75,276.75,277.75,278.75,279.75,280.75,281.75,282.75,283.75,284.75,285.75,286.75,287.75,288.75,289.75,290.75,291.75,292.75,293.75,294.75,295.75,296.75,297.75,298.75,299.75,300.75,301.75,302.75,303.75,304.75,305.75,306.75,307.75,308.75,309.75];

const residualValues3 = [
[112,64,20,-15],[95,41,118,-8],[121,77,5,52],[88,108,30,-22],[116,60,14,98],
[71,103,-12,39],[110,84,24,58],[92,48,115,2],[104,70,-18,33,117],[86,55,111,12],
[98,27,74,113,-6],[63,105,40,88],[108,81,17,52,-25],[95,66,111,30],[78,101,45,8,-30],
[109,58,90,22,72],[97,35,66,107,-12],[84,104,49,15,70],[106,61,92,28,-20,77],[88,43,100,70,6],
[102,75,54,19,-28,90],[-52,-78,-95,63,28],[-66,-88,-110,47,85],[-58,-72,-104,12,70],[-49,-83,-99,38,92],
[-63,-91,-120,55,21],[-55,-70,-108,80,5],[-61,-86,-97,44,66],[-47,-79,-114,30,89],[-68,-92,-103,58,15],
[-54,-75,-118,72,36],[-60,-84,-106,49,8],[-71,-97,-125,64,25],[-52,-80,-110,84,40],[-65,-89,-101,19,57],
[-58,-76,-121,75,33],[-74,-93,-112,46,4],[-62,-85,-130,68,22],[-55,-99,-117,80,38],[-69,-81,-108,13,55],
[-63,-94,-126,71,29],[-77,-88,-115,44,62],[-59,-102,-133,20,76],[-72,-90,-110,52,35],[-66,-84,-124,68,9],
[-80,-97,-118,41,58],[-61,-106,-136,26,71],[-75,-92,-121,55,14],[-68,-86,-113,63,37],[-83,-101,-129,20,48],
[-70,-95,-140,60,3],[-64,-88,-117,42,69],[-79,-108,-126,28,55],[-73,-96,-135,61,11],[-86,-104,-122,38,66],
[-68,-92,-130,52,19],[-81,-110,-143,63,30],[-75,-99,-124,7,47],[-90,-113,-138,57,25],[-72,-95,-128,36,62],
[-84,-107,-146,14,50],[-78,-101,-132,41,59],[-93,-116,-140,23,55],[-70,-98,-125,48,9],[-85,-111,-150,33,56],
[-79,-104,-137,52,18],[-92,-119,-145,40,6],[-74,-100,-131,27,49],[-88,-113,-152,45,12],[-81,-107,-139,54,30],
[-95,-122,-148,22,44],[-77,-103,-135,50,8],[-90,-116,-155,35,53],[-84,-109,-142,18,46],[-97,-125,-160,40,51],
[-80,-112,-146,26,49],[-93,-120,33,10],[-86,-131,44,20],[-100,29,-38],[-92,36,-12]
];

const W = 831, H = 430;
const svg = d3.select("#c");
svg.append("rect").attr("width", W).attr("height", H).attr("fill", "#fff");

const x = d3.scaleLinear().domain([95.2, 331.5]).range([54, 840]);
const y = d3.scaleLinear().domain([-305.1, 254.6]).range([399, 37]);

const points = [];
function addColumns(fs, rs) {
  const n = Math.min(fs.length, rs.length);
  for (let i = 0; i < n; i++) rs[i].forEach(r => points.push({ fitted: fs[i], residual: r }));
}
addColumns(fittedValues, residualValues);
addColumns(fittedValues2, residualValues2);
addColumns(fittedValues3, residualValues3);

svg.append("g")
  .selectAll("circle")
  .data(points)
  .join("circle")
  .attr("cx", d => x(d.fitted))
  .attr("cy", d => y(d.residual))
  .attr("r", 2.85)
  .attr("fill", "#000");

function styleAxis(g) {
  g.select(".domain").attr("stroke", "#000").attr("stroke-width", 1.1);
  g.selectAll(".tick line").attr("stroke", "#333").attr("stroke-width", 1.1);
  g.selectAll(".tick text").attr("fill", "#4d4d4d").attr("font-size", "10.5px")
    .attr("font-family", '"Liberation Sans", Arial, sans-serif');
}

svg.append("g")
  .attr("transform", "translate(0,399)")
  .call(d3.axisBottom(x).tickValues(xTicks).tickFormat((d, i) => xTickLabels[i])
    .tickSizeInner(3).tickSizeOuter(0).tickPadding(3.5))
  .call(styleAxis);

svg.append("g")
  .attr("transform", "translate(54,0)")
  .call(d3.axisLeft(y).tickValues(yTicks).tickFormat((d, i) => yTickLabels[i])
    .tickSizeInner(3).tickSizeOuter(0).tickPadding(3.5))
  .call(styleAxis);

svg.append("text")
  .attr("x", 450).attr("y", 21)
  .attr("text-anchor", "middle")
  .attr("font-size", "15.8px").attr("fill", "#000")
  .text(chartTitle);

svg.append("text")
  .attr("x", 448).attr("y", 428)
  .attr("text-anchor", "middle")
  .attr("font-size", "13.2px").attr("fill", "#000")
  .text(xTitle);

svg.append("text")
  .attr("transform", "translate(22.5,218) rotate(-90)")
  .attr("text-anchor", "middle")
  .attr("font-size", "13.2px").attr("fill", "#000")
  .text(yTitle);
</script>
</body></html>
